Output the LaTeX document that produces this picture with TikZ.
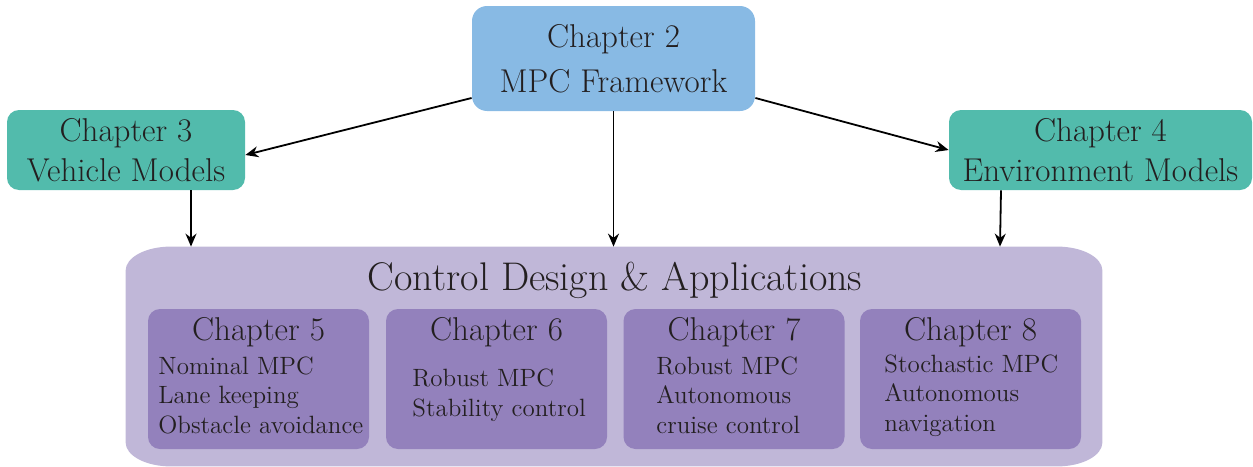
\documentclass[tikz,border=0pt]{standalone}
\usetikzlibrary{arrows.meta,calc}
\definecolor{blueA}{HTML}{88BAE4}
\definecolor{tealA}{HTML}{52BBAC}
\definecolor{lpurp}{HTML}{C0B7D8}
\definecolor{dpurp}{HTML}{9381BC}
\definecolor{txt}{HTML}{231F20}
\begin{document}
\begin{tikzpicture}[x=0.5pt,y=-0.5pt,
  topbox/.style={fill=blueA, rounded corners=7.5pt, minimum width=141.5pt, minimum height=52.5pt, align=center, text=txt, font=\fontsize{16.5}{22.5}\selectfont, inner sep=0pt},
  modbox/.style={fill=tealA, rounded corners=6pt, minimum height=40pt, align=center, text=txt, font=\fontsize{16.5}{20}\selectfont, inner sep=0pt},
  chapbox/.style={fill=dpurp, rounded corners=6pt, minimum width=110.5pt, minimum height=70pt, inner sep=0pt},
  chaptitle/.style={anchor=base, text=txt, font=\fontsize{16.5}{18}\selectfont, inner sep=0pt},
  chapbody/.style={anchor=base west, align=left, text=txt, font=\fontsize{12.5}{14.75}\selectfont, inner sep=0pt},
  arr/.style={-{Stealth[length=6.5pt,width=5.5pt]}, line width=0.9pt, black}
]
\useasboundingbox (0,0) rectangle (1253,466);

% top level
\node[topbox] (ch2) at (613.5,58.5) {Chapter 2\\MPC Framework};
\node[modbox, minimum width=119pt] (ch3) at (126,150) {Chapter 3\\Vehicle Models};
\node[modbox, minimum width=151.5pt] (ch4) at (1100.5,150) {Chapter 4\\Environment Models};

% big container
\node[minimum width=488pt, minimum height=109.5pt, inner sep=0pt] (cda) at (614,356.5) {};
\fill[lpurp] ($(cda.north west)+(22.5pt,0)$) -- ($(cda.north east)+(-22.5pt,0)$)
  arc[start angle=90, end angle=0, x radius=22.5pt, y radius=12pt]
  -- ($(cda.south east)+(0,12pt)$)
  arc[start angle=0, end angle=-90, x radius=22.5pt, y radius=12pt]
  -- ($(cda.south west)+(22.5pt,0)$)
  arc[start angle=270, end angle=180, x radius=22.5pt, y radius=12pt]
  -- ($(cda.north west)+(0,-12pt)$)
  arc[start angle=180, end angle=90, x radius=22.5pt, y radius=12pt] -- cycle;
\node[anchor=base, text=txt, font=\fontsize{20}{24}\selectfont, inner sep=0pt] (cdt) at (615,290) {Control Design \& Applications};

% chapter boxes
\node[chapbox] (ch5) at (258.5,379) {};
\node[chapbox] (ch6) at (496.5,379) {};
\node[chapbox] (ch7) at (734,379) {};
\node[chapbox] (ch8) at (970.5,379) {};

\node[chaptitle] (t5) at (258.5,340) {Chapter 5};
\node[chaptitle] (t6) at (496.5,340) {Chapter 6};
\node[chaptitle] (t7) at (734,340) {Chapter 7};
\node[chaptitle] (t8) at (970.5,340) {Chapter 8};

\node[chapbody] (b5) at (158,433) {Nominal MPC\\Lane keeping\\Obstacle avoidance};
\node[chapbody] (b6) at (412,416) {Robust MPC\\Stability control};
\node[chapbody] (b7) at (656,433) {Robust MPC\\Autonomous\\cruise control};
\node[chapbody] (b8) at (884,431) {Stochastic MPC\\Autonomous\\navigation};

% connectors
\draw[arr] ([yshift=-19.75pt]ch2.west) -- ([yshift=-2.5pt]ch3.east);
\draw[arr] ([yshift=-19.75pt]ch2.east) -- (ch4.west);
\draw[arr] (ch2.south) -- (ch2.south |- cda.north);
\draw[arr] ([xshift=32.5pt]ch3.south) -- ([xshift=32.5pt]ch3.south |- cda.north);
\draw[arr] ([xshift=-49.75pt]ch4.south) -- ([xshift=-50.25pt]ch4.south |- cda.north);
\end{tikzpicture}
\end{document}
